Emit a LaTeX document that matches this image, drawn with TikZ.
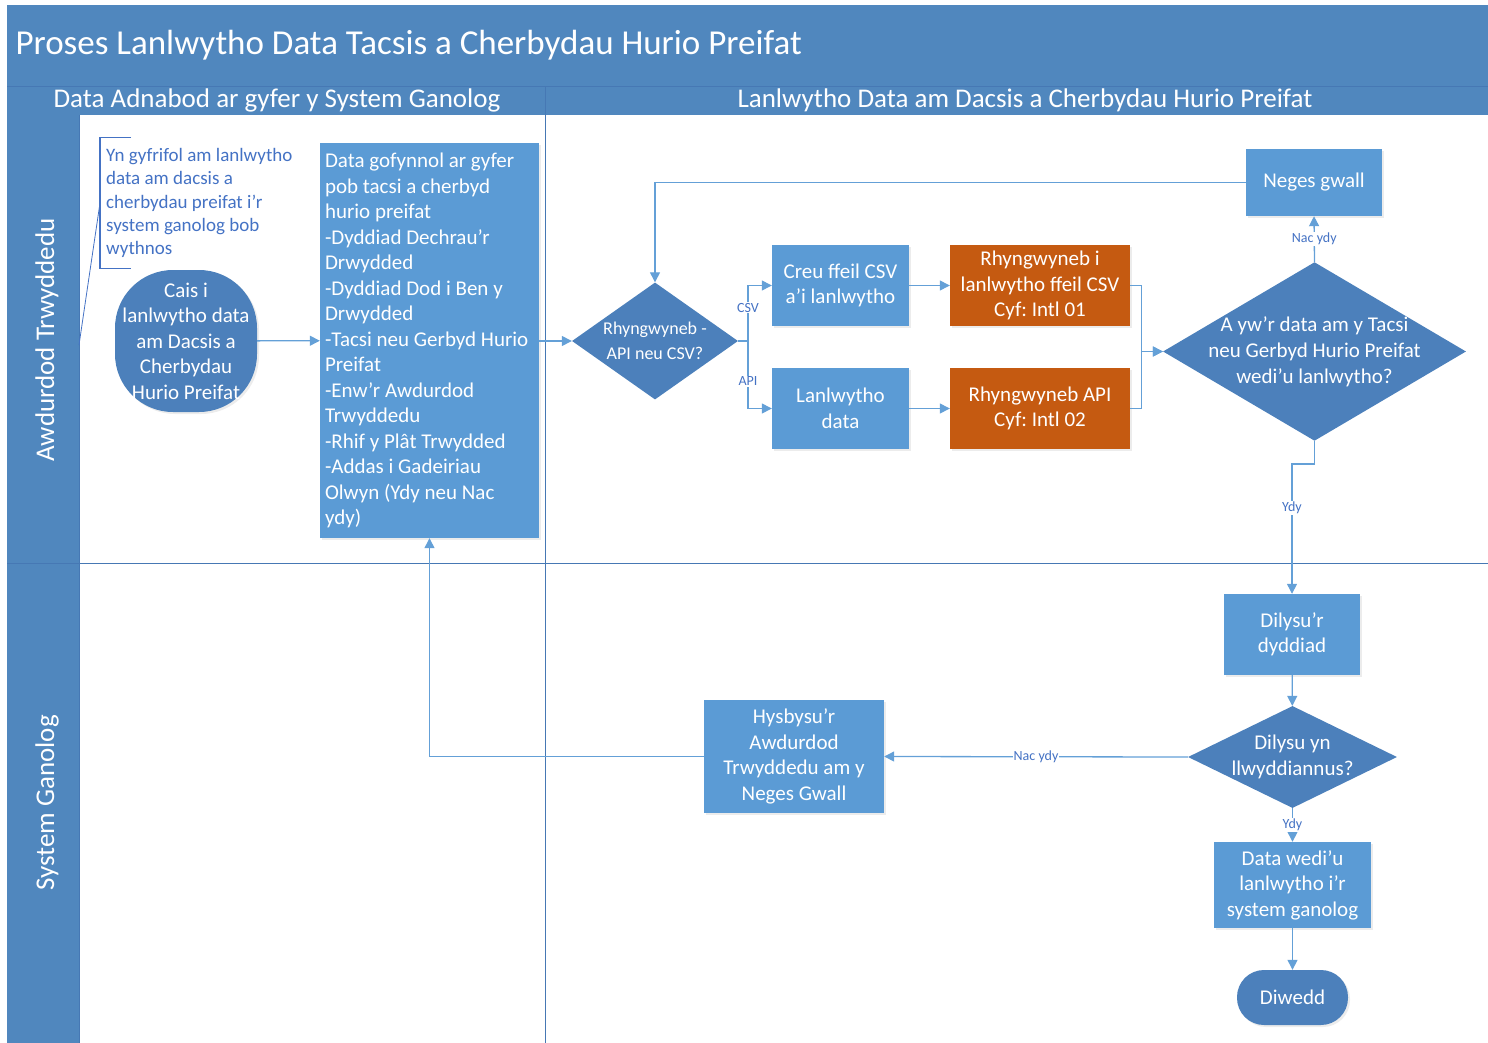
\documentclass[tikz,border=0pt]{standalone}
\usepackage{fontspec}
\setmainfont{Carlito}
\frenchspacing
\usetikzlibrary{positioning, shapes.geometric, arrows.meta, shadows}

\definecolor{lanehead}{RGB}{80,135,190}
\definecolor{boxblue}{RGB}{91,155,213}
\definecolor{darkblue}{RGB}{76,128,187}
\definecolor{orangebox}{RGB}{197,90,17}
\definecolor{lineblue}{RGB}{100,160,215}
\definecolor{noteblue}{RGB}{68,114,196}
\definecolor{laneline}{RGB}{70,120,180}

\newcommand{\setfs}[2]{\fontsize{#1}{#2}\selectfont}

\tikzset{
  procbox/.style={fill=boxblue, text=white, align=center, inner sep=2pt,
    font=\setfs{21}{25.5}, drop shadow={shadow xshift=2pt, shadow yshift=-2pt, opacity=0.15}},
  ifacebox/.style={procbox, fill=orangebox},
  termbox/.style={procbox, fill=darkblue},
  decision/.style={diamond, fill=darkblue, text=white, align=center,
    font=\setfs{21}{26}, inner xsep=-40pt, inner ysep=-12pt},
  flow/.style={draw=lineblue, line width=1.3pt, -{Triangle[length=10pt, width=10pt]}},
  edgelabel/.style={font=\setfs{14}{16}, text=noteblue, fill=white, inner sep=1pt},
  lanetext/.style={text=white, font=\setfs{27}{30}},
  noteline/.style={draw=noteblue, line width=1.2pt}
}

\begin{document}
\frenchspacing
\begin{tikzpicture}[x=1pt, y=-1pt]
  \useasboundingbox (0,0) rectangle (1488,1043);

  % swimlane frame
  \fill[lanehead] (7,5) rectangle (1488,115);
  \fill[lanehead] (7,115) rectangle (79,1043);
  \draw[laneline, line width=1pt] (7,87) -- (1488,87);
  \draw[laneline, line width=1pt] (7,563) -- (1488,563);
  \draw[laneline, line width=1pt] (545,87) -- (545,1043);
  \draw[laneline, line width=0.6pt] (79,115) -- (79,1043);

  \node[lanetext, anchor=west, font=\setfs{35}{40}] (title) at (12,45) {Proses Lanlwytho Data Tacsis a Cherbydau Hurio Preifat};
  \node[lanetext] (colA) at (277,100) {Data Adnabod ar gyfer y System Ganolog};
  \node[lanetext] (colB) at (1025,100) {Lanlwytho Data am Dacsis a Cherbydau Hurio Preifat};
  \node[lanetext, rotate=90, font=\setfs{27}{30}] (laneA) at (47,340) {Awdurdod Trwyddedu};
  \node[lanetext, rotate=90, font=\setfs{27}{30}] (laneB) at (47,803) {System Ganolog};

  % awdurdod trwyddedu lane
  \node[anchor=west, align=flush left, text=noteblue, font=\setfs{19}{23.3},
    minimum height=130, inner xsep=6pt] (note) at (100,203)
    {Yn gyfrifol am lanlwytho\\data am dacsis a\\cherbydau preifat i’r\\system ganolog bob\\wythnos};
  \draw[noteline] ([xshift=31]note.north west) -- (note.north west)
    -- (note.south west) -- ([xshift=31]note.south west);
  \coordinate (notetip) at (79,345);
  \draw[noteline, line width=0.8pt] (note.west) -- (notetip);

  \node[termbox, minimum width=142, minimum height=142, rounded corners=58pt] (cais) at (186,341)
    {Cais i\\lanlwytho data\\am Dacsis a\\Cherbydau\\Hurio Preifat};
  \node[procbox, align=flush left, text width=209, minimum width=219, minimum height=395,
    inner xsep=5pt] (data) at (429.5,340.5)
    {Data gofynnol ar gyfer\\pob tacsi a cherbyd\\hurio preifat\\-Dyddiad Dechrau’r\\Drwydded\\-Dyddiad Dod i Ben y\\Drwydded\\-Tacsi neu Gerbyd Hurio\\Preifat\\-Enw’r Awdurdod\\Trwyddedu\\-Rhif y Plât Trwydded\\-Addas i Gadeiriau\\Olwyn (Ydy neu Nac\\ydy)};

  \node[decision, minimum width=166, minimum height=117, font=\setfs{18}{25}] (iface) at (655,341)
    {Rhyngwyneb -\\API neu CSV?};
  \node[procbox, minimum width=137, minimum height=81] (csv) at (840.5,285.5)
    {Creu ffeil CSV\\a’i lanlwytho};
  \node[procbox, minimum width=137, minimum height=81] (upl) at (840.5,408.5)
    {Lanlwytho\\data};
  \node[ifacebox, minimum width=180, minimum height=81] (csvif) at (1040,285.5)
    {Rhyngwyneb i\\lanlwytho ffeil CSV\\Cyf: Intl 01};
  \node[ifacebox, minimum width=180, minimum height=81] (apiif) at (1040,408.5)
    {Rhyngwyneb API\\Cyf: Intl 02};
  \node[decision, minimum width=303, minimum height=171] (check) at (1314.5,351.5)
    {A yw’r data am y Tacsi\\neu Gerbyd Hurio Preifat\\wedi’u lanlwytho?};
  \node[procbox, minimum width=136, minimum height=67] (error) at (1314,182.5)
    {Neges gwall};

  % system ganolog lane
  \node[procbox, minimum width=136, minimum height=81] (date) at (1292,634.5)
    {Dilysu’r\\dyddiad};
  \node[decision, minimum width=209, minimum height=102] (valid) at (1292.5,757)
    {Dilysu yn\\llwyddiannus?};
  \node[procbox, minimum width=180, minimum height=113] (notify) at (794,756.5)
    {Hysbysu’r\\Awdurdod\\Trwyddedu am y\\Neges Gwall};
  \node[procbox, minimum width=157, minimum height=86] (done) at (1292.5,885)
    {Data wedi’u\\lanlwytho i’r\\system ganolog};
  \node[termbox, minimum width=111, minimum height=55, rounded corners=27pt] (end) at (1292.5,997.5)
    {Diwedd};

  % connectors
  \coordinate (split) at (748,341);
  \draw[flow] (cais) -- (data);
  \draw[flow] (data.east |- iface.west) -- (iface.west);
  \draw[flow] (iface.east) -- (split) |- node[edgelabel, pos=0.3] {CSV} (csv.west);
  \draw[flow] (split) |- node[edgelabel, pos=0.3] {API} (upl.west);
  \draw[flow] (csv) -- (csvif);
  \draw[flow] (upl) -- (apiif);
  \draw[flow] (csvif.east) -- ++(11,0) |- (check.west);
  \draw[flow] (apiif.east) -- ++(11,0) |- (check.west);
  \draw[flow] (check.north) -- node[edgelabel] {Nac ydy} (error.south);
  \draw[flow] (error.west) -| (iface.north);
  \draw[flow] (check.south) -- ++(0,23) -| node[edgelabel, pos=0.67] {Ydy} (date.north);
  \draw[flow] (date) -- (valid);
  \draw[flow] (valid.west) -- node[edgelabel] {Nac ydy} (notify.east);
  \draw[flow] (notify.west) -| (data.south);
  \draw[flow] (valid.south) -- node[edgelabel] {Ydy} (done.north);
  \draw[flow] (done) -- (end);
\end{tikzpicture}
\end{document}
